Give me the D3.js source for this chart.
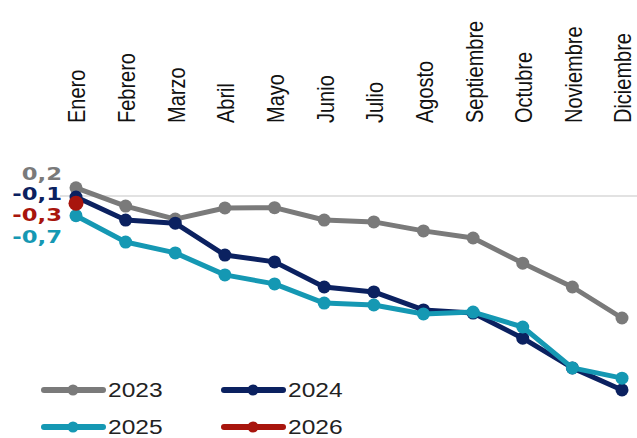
<!DOCTYPE html>
<html>
<head>
<meta charset="utf-8">
<script src="https://cdn.jsdelivr.net/npm/d3@7"></script>
<style>
  body { margin: 0; background: #fff; }
</style>
</head>
<body>
<div id="chart"></div>
<script>
const width = 637
const height = 438

const months = ["Enero","Febrero","Marzo","Abril","Mayo","Junio","Julio","Agosto","Septiembre","Octubre","Noviembre","Diciembre"]

const years = ["2023","2024","2025","2026"]
const colors = ["#7a7a7a","#0b2160","#1598b3","#a8150d"]

const v2023 = [0.2,-0.39,-0.81,-0.45,-0.44,-0.84,-0.9,-1.19,-1.42,-2.23,-3.0,-4.0]
const v2024 = [-0.1,-0.84,-0.94,-1.97,-2.19,-3.0,-3.16,-3.74,-3.84,-4.65,-5.61,-6.32]
const v2025 = [-0.7,-1.55,-1.9,-2.61,-2.9,-3.52,-3.58,-3.87,-3.81,-4.29,-5.61,-5.94]
const v2026 = [-0.3]

const firstLabels = ["0,2","-0,1","-0,7","-0,3"]

const series = [v2023, v2024, v2025, v2026]

const x = d3.scaleLinear().domain([0, 11]).range([76, 622])
const y = d3.scaleLinear().domain([0, -7]).range([194, 411])

const svg = d3.select("#chart")
  .append("svg")
  .attr("width", width)
  .attr("height", height)

// zero line
svg.append("line")
  .attr("x1", 60).attr("x2", 637)
  .attr("y1", y(0) + 2).attr("y2", y(0) + 2)
  .style("stroke", "#d9d9d9")
  .style("stroke-width", 1.5)

// month labels, rotated
svg.selectAll(".month")
  .data(months)
  .enter()
  .append("text")
  .attr("class", "month")
  .attr("transform", (d, i) => "translate(" + (x(i) + 1) + ",123) scale(1.18,1) rotate(-90)")
  .attr("dy", "0.36em")
  .style("font-family", "'Liberation Sans', Arial, sans-serif")
  .style("font-size", "20px")
  .style("fill", "#111")
  .text(d => d)

const line = d3.line()
  .x((d, i) => x(i))
  .y(d => y(d))

series.forEach((vals, k) => {
  svg.append("path")
    .attr("d", line(vals))
    .style("fill", "none")
    .style("stroke", colors[k])
    .style("stroke-width", 5)
    .style("stroke-linejoin", "round")

  svg.selectAll(".dot" + k)
    .data(vals)
    .enter()
    .append("circle")
    .attr("cx", (d, i) => x(i))
    .attr("cy", d => y(d))
    .attr("r", k === 3 ? 7.5 : 6.5)
    .style("fill", colors[k])
})

// first-value labels on the left
const labelY = [174, 194, 237, 215]
firstLabels.forEach((t, k) => {
  svg.append("text")
    .attr("transform", "translate(62," + labelY[k] + ") scale(1.3,1)")
    .attr("dy", "0.36em")
    .attr("text-anchor", "end")
    .style("font-family", "'DejaVu Sans', Verdana, sans-serif")
    .style("font-weight", "bold")
    .style("font-size", "17.5px")
    .style("fill", colors[k])
    .text(t)
})

// legend
const legendX = [42, 222, 42, 222]
const legendY = [390, 390, 427, 427]
years.forEach((yr, k) => {
  const g = svg.append("g")
    .attr("transform", "translate(" + legendX[k] + "," + legendY[k] + ")")
  g.append("line")
    .attr("x1", 2).attr("x2", 61)
    .attr("y1", 0).attr("y2", 0)
    .style("stroke", colors[k])
    .style("stroke-width", 6)
    .style("stroke-linecap", "round")
  g.append("circle")
    .attr("cx", 31).attr("cy", 0).attr("r", 5.5)
    .style("fill", colors[k])
  g.append("text")
    .attr("transform", "translate(66,0) scale(1.26,1)")
    .attr("dy", "0.36em")
    .style("font-family", "'Liberation Sans', Arial, sans-serif")
    .style("font-size", "19.5px")
    .style("fill", "#222")
    .text(yr)
})
</script>
</body>
</html>
